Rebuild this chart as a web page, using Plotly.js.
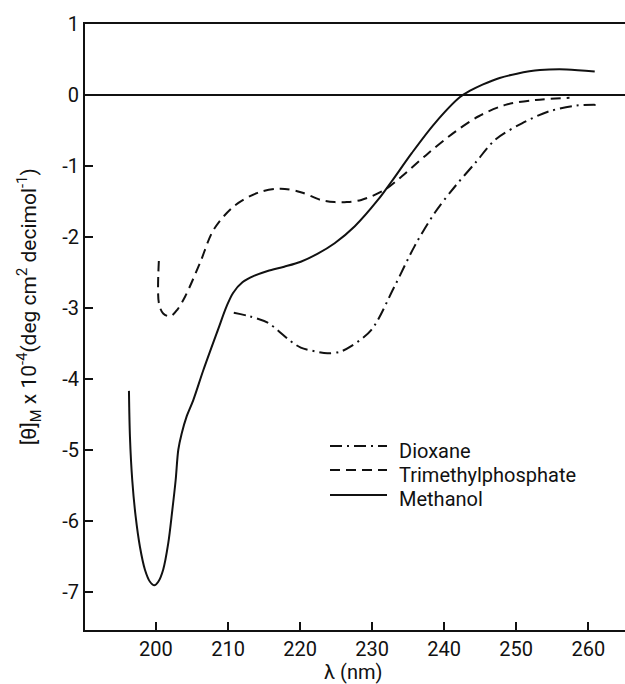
<!DOCTYPE html>
<html>
<head>
<meta charset="utf-8">
<script src="https://cdn.plot.ly/plotly-3.0.1.min.js"></script>
<style>html,body{margin:0;padding:0;background:#fff;}#chart{width:625px;height:684px;}</style>
</head>
<body>
<div id="chart"></div>
<script>
// Dioxane (dash-dot)
const dioxaneX = [210.8, 213.0, 215.5, 218.7, 220.1, 222.4, 223.8, 225.5, 227.1, 229.9, 233.1, 235.9, 238.7, 241.5, 244.3, 247.1, 250.8, 254.6, 258.3, 261.3];
const dioxaneY = [-3.07, -3.12, -3.21, -3.47, -3.56, -3.62, -3.64, -3.62, -3.54, -3.31, -2.70, -2.13, -1.66, -1.29, -0.96, -0.63, -0.40, -0.23, -0.15, -0.14];
// Trimethylphosphate (dashed)
const tmpX = [200.4, 200.4, 201.0, 202.0, 203.0, 204.05, 206.1, 208.0, 210.8, 214.1, 217.3, 220.1, 222.9, 224.8, 226.5, 228.5, 231.7, 234.1, 237.8, 241.5, 244.8, 248.5, 252.7, 257.4];
const tmpY = [-2.34, -2.93, -3.08, -3.12, -3.02, -2.84, -2.37, -1.90, -1.57, -1.38, -1.32, -1.37, -1.48, -1.51, -1.51, -1.48, -1.34, -1.15, -0.82, -0.52, -0.30, -0.14, -0.07, -0.04];
// Methanol (solid)
const methX = [196.25, 196.39, 196.71, 197.18, 197.78, 198.47, 199.17, 199.77, 200.32, 201.0, 201.7, 202.27, 202.73, 203.1, 203.57, 204.26, 205.18, 206.57, 208.6, 209.8, 210.7, 212.0, 213.6, 215.5, 217.8, 220.1, 222.4, 224.8, 227.6, 230.8, 232.7, 235.5, 238.7, 242.2, 243.6, 245.4, 247.7, 250.1, 253.3, 257.0, 260.9];
const methY = [-4.17, -4.82, -5.43, -5.94, -6.37, -6.69, -6.86, -6.91, -6.86, -6.69, -6.32, -5.85, -5.43, -5.00, -4.77, -4.53, -4.30, -3.88, -3.31, -2.98, -2.79, -2.64, -2.55, -2.48, -2.42, -2.35, -2.24, -2.09, -1.85, -1.48, -1.22, -0.82, -0.40, -0.03, 0.06, 0.15, 0.24, 0.30, 0.35, 0.36, 0.33];

const seriesNames = ["Dioxane", "Trimethylphosphate", "Methanol"];
const xTickVals = [200, 210, 220, 230, 240, 250, 260];
const xTickText = ["200", "210", "220", "230", "240", "250", "260"];
const yTickVals = [-7, -6, -5, -4, -3, -2, -1, 0, 1];
const yTickText = ["-7", "-6", "-5", "-4", "-3", "-2", "-1", "0", "1"];

const FONT = "Roboto, 'DejaVu Sans', sans-serif";
const INK = "#111";
const dashes = ["12px,5px,2px,5px", "10px,6px", "solid"];

const traces = seriesNames.map((name, i) => ({
  x: [dioxaneX, tmpX, methX][i],
  y: [dioxaneY, tmpY, methY][i],
  name: name, mode: "lines", showlegend: false,
  line: {color: INK, width: 2, dash: dashes[i], shape: "spline", smoothing: 0.9}
}));

// Hand-placed legend (paper coordinates)
const legX0 = (330 - 85) / 540, legX1 = (387 - 85) / 540, legTx = (397 - 85) / 540;
const legLineY = [446, 470, 495].map(p => (630 - p) / 606);
const legTextY = [451, 475, 499].map(p => (630 - p) / 606);

const shapes = seriesNames.map((n, i) => ({
  type: "line", xref: "paper", yref: "paper",
  x0: legX0, x1: legX1, y0: legLineY[i], y1: legLineY[i],
  line: {color: INK, width: 2, dash: dashes[i]}
}));

const annotations = seriesNames.map((n, i) => ({
  text: n, xref: "paper", yref: "paper", x: legTx, y: legTextY[i],
  xanchor: "left", yanchor: "middle", showarrow: false,
  font: {family: FONT, size: 20, color: INK}
}));
annotations.push(
  {text: "λ (nm)", xref: "paper", yref: "paper", x: 0.496, y: -0.070,
   xanchor: "center", yanchor: "middle", showarrow: false,
   font: {family: FONT, size: 20, color: INK}},
  {text: "[θ]<sub>M</sub> x 10<sup>-4</sup>(deg cm<sup>2</sup> decimol<sup>-1</sup>)",
   xref: "paper", yref: "paper", x: -0.105, y: 0.533, textangle: -90,
   xanchor: "center", yanchor: "middle", showarrow: false,
   font: {family: FONT, size: 21, color: INK}}
);

const layout = {
  width: 625, height: 684,
  margin: {l: 85, r: 0, t: 24, b: 54},
  paper_bgcolor: "#fff", plot_bgcolor: "#fff",
  font: {family: FONT, color: INK, size: 20},
  showlegend: false,
  xaxis: {range: [190.15, 265.1], showgrid: false, zeroline: false,
          showline: true, linecolor: INK, linewidth: 2, mirror: true,
          ticks: "inside", ticklen: 8, tickwidth: 2, tickcolor: INK,
          tickvals: xTickVals, ticktext: xTickText,
          tickfont: {family: FONT, size: 20, color: INK}},
  yaxis: {range: [-7.54, 1.0], showgrid: false,
          zeroline: true, zerolinecolor: INK, zerolinewidth: 2,
          showline: true, linecolor: INK, linewidth: 2, mirror: false,
          ticks: "inside", ticklen: 8, tickwidth: 2, tickcolor: INK,
          tickvals: yTickVals, ticktext: yTickText,
          tickfont: {family: FONT, size: 20, color: INK}},
  shapes: shapes,
  annotations: annotations
};

Plotly.newPlot("chart", traces, layout, {displayModeBar: false, staticPlot: true});
</script>
</body>
</html>
